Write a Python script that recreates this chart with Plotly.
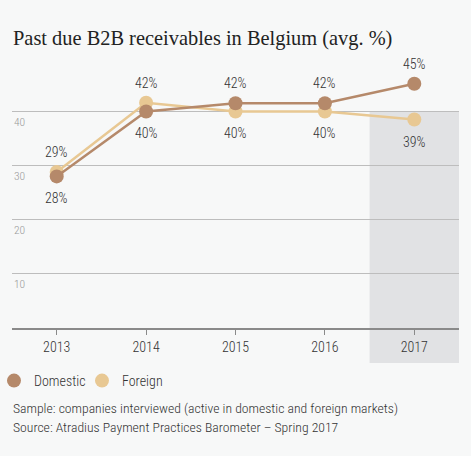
import plotly.graph_objects as go

years = ["2013", "2014", "2015", "2016", "2017"]
domestic = [28.0, 40.0, 41.5, 41.5, 45.1]
foreign = [28.8, 41.6, 40.0, 40.0, 38.5]
domestic_labels = ["28%", "40%", "42%", "42%", "45%"]
foreign_labels = ["29%", "42%", "40%", "40%", "39%"]
domestic_above = [False, False, True, True, True]
foreign_above = [True, True, False, False, False]
y_ticks = [10, 20, 30, 40]
title = "Past due B2B receivables in Belgium (avg. %)"
notes = ["Sample: companies interviewed (active in domestic and foreign markets)",
         "Source: Atradius Payment Practices Barometer \u2013 Spring 2017"]

C_DOM = "#b5896a"
C_FOR = "#e8c893"
BG = "#f7f8f8"
NARROW = "Roboto Condensed, DejaVu Sans Condensed, sans-serif"
TXT = "#333333"

W, H = 471, 456
L, R, T, B = 12, 12, 60, 128
YMAX = 49.5
plot_h = H - T - B
plot_w = W - L - R

fig = go.Figure()

# highlighted 2017 band
fig.add_shape(type="rect", xref="x", yref="paper", x0=3.5, x1=4.55,
              y0=-35 / plot_h, y1=40 / YMAX, fillcolor="#e1e2e4",
              line_width=0, layer="below")

for vals, color in ((foreign, C_FOR), (domestic, C_DOM)):
    fig.add_trace(go.Scatter(x=years, y=vals, mode="lines+markers",
                             line=dict(color=color, width=2.5),
                             marker=dict(color=color, size=14),
                             showlegend=False, cliponaxis=False))

for vals, labels, above in ((foreign, foreign_labels, foreign_above),
                            (domestic, domestic_labels, domestic_above)):
    for i, (yv, lab, up) in enumerate(zip(vals, labels, above)):
        fig.add_annotation(text=lab, x=i, y=yv, xref="x", yref="y",
                           xanchor="center", yanchor="middle",
                           yshift=20 if up else -22, showarrow=False,
                           font=dict(family=NARROW, size=14, color=TXT, weight=300))

fig.add_trace(go.Scatter(x=[None], y=[None], mode="markers", name="Domestic",
                         marker=dict(color=C_DOM, size=14)))
fig.add_trace(go.Scatter(x=[None], y=[None], mode="markers", name="Foreign",
                         marker=dict(color=C_FOR, size=14)))

fig.update_xaxes(type="category", range=[-0.5, 4.5], showgrid=False,
                 showline=True, linecolor="#8a8a8a", linewidth=1.5,
                 ticks="outside", ticklen=5, tickcolor="#8a8a8a",
                 tickfont=dict(family=NARROW, size=14, color=TXT, weight=300),
                 fixedrange=True)
fig.update_yaxes(range=[0, YMAX], tickvals=y_ticks, showgrid=True,
                 gridcolor="#bdbdbd", gridwidth=1, zeroline=False,
                 showline=False, showticklabels=False)

for v in y_ticks:
    fig.add_annotation(text=str(v), xref="paper", yref="y", x=0, y=v,
                       xanchor="left", yanchor="middle", xshift=0, yshift=-10.5,
                       showarrow=False,
                       font=dict(family=NARROW, size=11.5, color="#9a9a9a", weight=300))

fig.add_annotation(text=title, xref="paper", yref="paper", x=0, y=1 + (T - 38) / plot_h,
                   xanchor="left", yanchor="middle", xshift=-1, showarrow=False,
                   font=dict(family="Liberation Serif, DejaVu Serif, serif", size=20.4, color="#222222"))
for i, note in enumerate(notes):
    fig.add_annotation(text=note, xref="paper", yref="paper", x=0,
                       y=-(408 + 19 * i - (H - B)) / plot_h,
                       xanchor="left", yanchor="middle", xshift=-1, showarrow=False,
                       font=dict(family=NARROW, size=13.7, color=TXT, weight=300))

fig.update_layout(width=W, height=H,
                  margin=dict(l=L, r=R, t=T, b=B, autoexpand=False),
                  paper_bgcolor=BG, plot_bgcolor="rgba(0,0,0,0)",
                  legend=dict(orientation="h", x=-18 / plot_w, xanchor="left",
                              y=-(381 - (H - B)) / plot_h, yanchor="middle",
                              font=dict(family=NARROW, size=14, color=TXT, weight=300),
                              entrywidth=43, entrywidthmode="pixels",
                              bgcolor="rgba(0,0,0,0)"),
                  showlegend=True)

fig.write_html("out.html", config={"displayModeBar": False},
               post_script="document.body.style.margin='0';document.body.style.background='#f7f8f8';")
